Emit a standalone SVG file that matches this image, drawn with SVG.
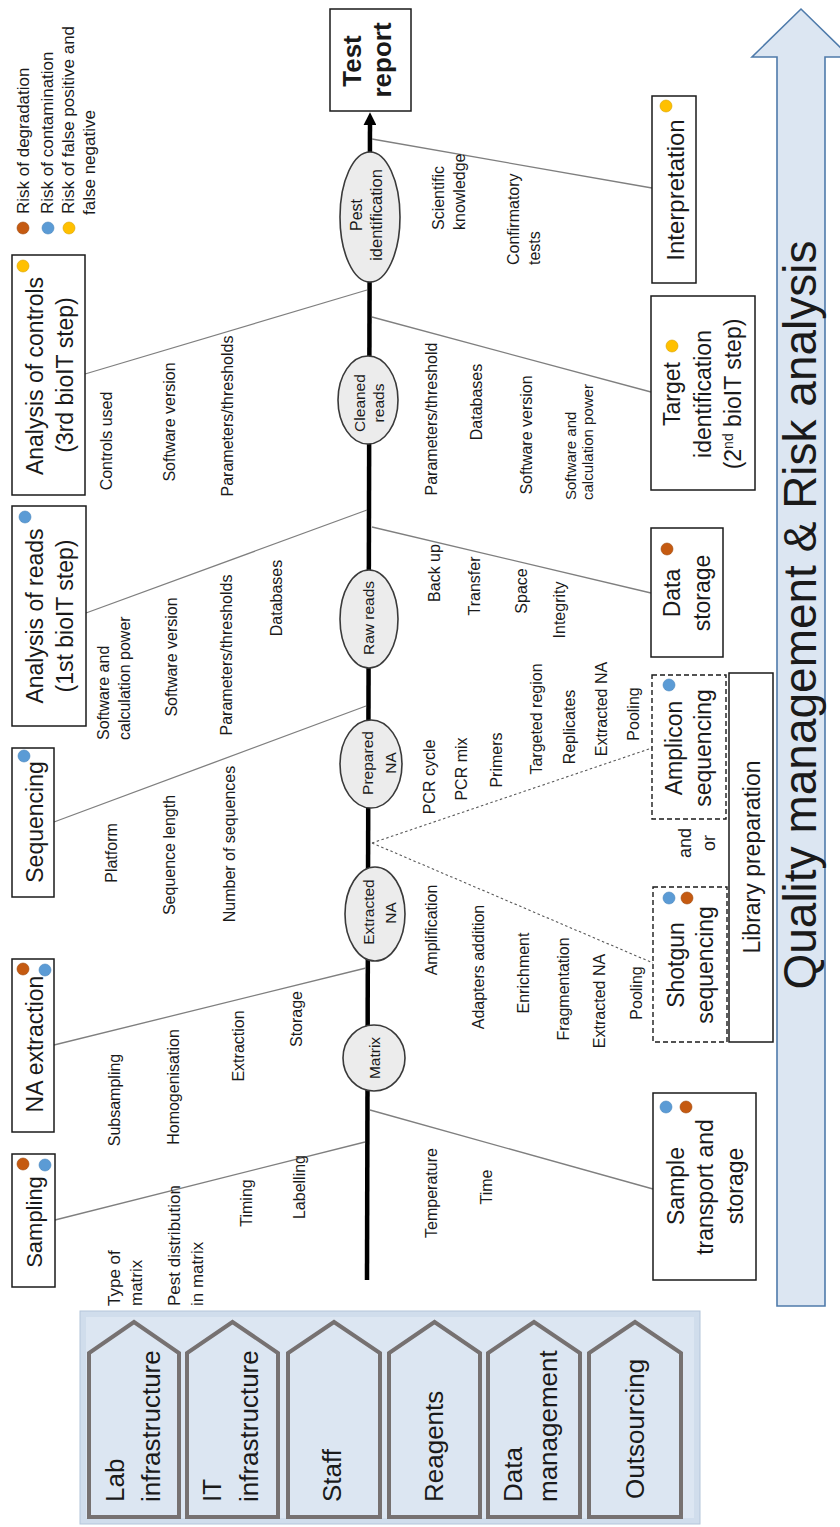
<svg xmlns="http://www.w3.org/2000/svg" width="840" height="1527" viewBox="0 0 840 1527">
<style>
text{font-family:"Liberation Sans",Arial,sans-serif;fill:#1a1a1a}
.box{fill:#fff;stroke:#1a1a1a;stroke-width:1.5}
.dbox{fill:#fff;stroke:#1a1a1a;stroke-width:1.4;stroke-dasharray:5 3}
.ell{fill:#ececec;stroke:#3a3a3a;stroke-width:1.6}
.gl{stroke:#7f7f7f;stroke-width:1.3;fill:none}
.dl{stroke:#5a5a5a;stroke-width:1.1;stroke-dasharray:2.5 2.5;fill:none}
.lbl{font-size:16px}
.lbs{font-size:15px}
.bt{font-size:23px}
.et{font-size:15.5px}
.at{font-size:26px}
.dor{fill:#c55a11;stroke:#a04a0e;stroke-width:0.6}
.dbl{fill:#5b9bd5;stroke:#4a86bd;stroke-width:0.6}
.dye{fill:#ffc000;stroke:#d9a300;stroke-width:0.6}
.pent{fill:#dce6f2;stroke:#767171;stroke-width:4;stroke-linejoin:miter}
</style>
<defs>
<marker id="ah" viewBox="0 0 10 10" refX="4" refY="5" markerWidth="13" markerHeight="13" markerUnits="userSpaceOnUse" orient="auto"><path d="M0,0 L10,5 L0,10 z" fill="#000"/></marker>
</defs>

<g id="quality-arrow">
<polygon points="777,1306 777,57 752,57 801,9 850,57 825,57 825,1306" fill="#dce6f2" stroke="#4f7bab" stroke-width="1.6"/>
<text transform="translate(816,615) rotate(-90)" text-anchor="middle" font-size="46">Quality management &amp; Risk analysis</text>
</g>

<g id="legend">
<circle class="dor" cx="23" cy="228" r="6"/>
<circle class="dbl" cx="48" cy="228" r="6"/>
<circle class="dye" cx="69" cy="228" r="6"/>
<text transform="translate(29,214) rotate(-90)" font-size="17">Risk of degradation</text>
<text transform="translate(53,214) rotate(-90)" font-size="17">Risk of contamination</text>
<text transform="translate(74,214) rotate(-90)" font-size="17">Risk of false positive and</text>
<text transform="translate(95,215) rotate(-90)" font-size="17">false negative</text>
</g>

<g id="connectors">
<line x1="367" y1="1280" x2="370" y2="120" stroke="#000" stroke-width="4.5" marker-end="url(#ah)"/>
<line class="gl" x1="55" y1="1220" x2="365" y2="1142"/>
<line class="gl" x1="54" y1="1045" x2="366" y2="968"/>
<line class="gl" x1="54" y1="822" x2="366" y2="706"/>
<line class="gl" x1="86" y1="613" x2="367" y2="510"/>
<line class="gl" x1="85" y1="374" x2="367" y2="290"/>
<line class="gl" x1="372" y1="139" x2="652" y2="188"/>
<line class="gl" x1="372" y1="317" x2="651" y2="392"/>
<line class="gl" x1="372" y1="527" x2="651" y2="593"/>
<line class="gl" x1="370" y1="1110" x2="653" y2="1189"/>
<line class="dl" x1="372" y1="843" x2="652" y2="748"/>
<line class="dl" x1="372" y1="843" x2="653" y2="963"/>
</g>

<g id="node-test-report">
<rect class="box" x="330" y="9" width="81" height="102"/>
<text transform="translate(361,61) rotate(-90)" text-anchor="middle" font-size="26" font-weight="bold">Test</text>
<text transform="translate(391,60) rotate(-90)" text-anchor="middle" font-size="26" font-weight="bold">report</text>
</g>

<g id="node-pest-identification">
<ellipse class="ell" cx="370" cy="217" rx="30" ry="65"/>
<text transform="translate(362,215) rotate(-90)" text-anchor="middle" font-size="16">Pest</text>
<text transform="translate(382,215) rotate(-90)" text-anchor="middle" font-size="16.5">identification</text>
</g>
<g id="node-cleaned-reads">
<ellipse class="ell" cx="368" cy="400" rx="30" ry="44"/>
<text class="et" transform="translate(365,403) rotate(-90)" text-anchor="middle">Cleaned</text>
<text class="et" transform="translate(384,403) rotate(-90)" text-anchor="middle">reads</text>
</g>
<g id="node-raw-reads">
<ellipse class="ell" cx="369" cy="619" rx="29" ry="49"/>
<text class="et" transform="translate(374,618) rotate(-90)" text-anchor="middle">Raw reads</text>
</g>
<g id="node-prepared-na">
<ellipse class="ell" cx="371" cy="764" rx="31" ry="44"/>
<text class="et" transform="translate(373,763) rotate(-90)" text-anchor="middle">Prepared</text>
<text class="et" transform="translate(396,763) rotate(-90)" text-anchor="middle">NA</text>
</g>
<g id="node-extracted-na">
<ellipse class="ell" cx="375" cy="914" rx="30" ry="47"/>
<text class="et" transform="translate(374,912) rotate(-90)" text-anchor="middle">Extracted</text>
<text class="et" transform="translate(396,913) rotate(-90)" text-anchor="middle">NA</text>
</g>
<g id="node-matrix">
<ellipse class="ell" cx="374" cy="1058" rx="31" ry="33"/>
<text class="et" transform="translate(380,1058) rotate(-90)" text-anchor="middle">Matrix</text>
</g>

<g id="node-analysis-controls">
<rect class="box" x="12" y="255" width="73" height="240"/>
<circle class="dye" cx="23" cy="266" r="6"/>
<text class="bt" transform="translate(43,376) rotate(-90)" text-anchor="middle">Analysis of controls</text>
<text class="bt" transform="translate(73,375) rotate(-90)" text-anchor="middle">(3rd bioIT step)</text>
<text class="lbl" transform="translate(111.5,441) rotate(-90)" text-anchor="middle">Controls used</text>
<text class="lbl" transform="translate(174.5,422) rotate(-90)" text-anchor="middle">Software version</text>
<text class="lbl" transform="translate(233,416) rotate(-90)" text-anchor="middle">Parameters/thresholds</text>
</g>
<g id="node-analysis-reads">
<rect class="box" x="12" y="506" width="74" height="220"/>
<circle class="dbl" cx="25" cy="517" r="6"/>
<text class="bt" transform="translate(43,616) rotate(-90)" text-anchor="middle">Analysis of reads</text>
<text class="bt" transform="translate(73,616) rotate(-90)" text-anchor="middle">(1st bioIT step)</text>
<text class="lbl" transform="translate(108.5,740) rotate(-90)">Software and</text>
<text class="lbl" transform="translate(129.5,740) rotate(-90)">calculation power</text>
<text class="lbl" transform="translate(176.5,657) rotate(-90)" text-anchor="middle">Software version</text>
<text class="lbl" transform="translate(231.5,655) rotate(-90)" text-anchor="middle">Parameters/thresholds</text>
<text class="lbl" transform="translate(281.5,598) rotate(-90)" text-anchor="middle">Databases</text>
</g>
<g id="node-sequencing">
<rect class="box" x="12" y="748" width="42" height="149"/>
<circle class="dbl" cx="24" cy="756" r="6"/>
<text class="bt" transform="translate(43,822) rotate(-90)" text-anchor="middle">Sequencing</text>
<text class="lbl" transform="translate(116.5,853) rotate(-90)" text-anchor="middle">Platform</text>
<text class="lbl" transform="translate(174.5,855) rotate(-90)" text-anchor="middle">Sequence length</text>
<text class="lbl" transform="translate(234.5,844) rotate(-90)" text-anchor="middle">Number of sequences</text>
</g>
<g id="node-na-extraction">
<rect class="box" x="12" y="959" width="42" height="173"/>
<circle class="dor" cx="23" cy="969" r="6"/>
<circle class="dbl" cx="45" cy="970" r="6"/>
<text class="bt" transform="translate(43,1044) rotate(-90)" text-anchor="middle">NA extraction</text>
<text class="lbl" transform="translate(119.5,1100) rotate(-90)" text-anchor="middle">Subsampling</text>
<text class="lbl" transform="translate(178.5,1087) rotate(-90)" text-anchor="middle">Homogenisation</text>
<text class="lbl" transform="translate(243.5,1046) rotate(-90)" text-anchor="middle">Extraction</text>
<text class="lbl" transform="translate(301.5,1019) rotate(-90)" text-anchor="middle">Storage</text>
</g>
<g id="node-sampling">
<rect class="box" x="12" y="1154" width="43" height="133"/>
<circle class="dor" cx="23" cy="1164" r="6"/>
<circle class="dbl" cx="45" cy="1165" r="6"/>
<text transform="translate(42,1222) rotate(-90)" text-anchor="middle" font-size="22">Sampling</text>
<text transform="translate(120,1306) rotate(-90)" font-size="17">Type of</text>
<text transform="translate(142,1306) rotate(-90)" font-size="17">matrix</text>
<text transform="translate(180,1306) rotate(-90)" font-size="17">Pest distribution</text>
<text transform="translate(203,1306) rotate(-90)" font-size="17">in matrix</text>
<text class="lbl" transform="translate(251.5,1203) rotate(-90)" text-anchor="middle">Timing</text>
<text class="lbl" transform="translate(304.5,1187) rotate(-90)" text-anchor="middle">Labelling</text>
</g>

<g id="node-interpretation">
<rect class="box" x="652" y="96" width="44" height="187"/>
<circle class="dye" cx="666" cy="106" r="6"/>
<text transform="translate(684,190) rotate(-90)" text-anchor="middle" font-size="24">Interpretation</text>
<text class="lbl" transform="translate(443.5,230) rotate(-90)">Scientific</text>
<text class="lbl" transform="translate(464.5,230) rotate(-90)">knowledge</text>
<text class="lbl" transform="translate(518.5,265) rotate(-90)">Confirmatory</text>
<text class="lbl" transform="translate(540,265) rotate(-90)">tests</text>
</g>
<g id="node-target-identification">
<rect class="box" x="651" y="296" width="104" height="194"/>
<circle class="dye" cx="672" cy="346" r="6"/>
<text class="bt" transform="translate(680,394) rotate(-90)" text-anchor="middle">Target</text>
<text class="bt" transform="translate(711,394) rotate(-90)" text-anchor="middle">identification</text>
<text class="bt" transform="translate(741,394) rotate(-90)" text-anchor="middle">(2<tspan font-size="14" dy="-8">nd</tspan><tspan dy="8"> bioIT step)</tspan></text>
<text class="lbl" transform="translate(436.5,419) rotate(-90)" text-anchor="middle">Parameters/threshold</text>
<text class="lbl" transform="translate(481.5,402) rotate(-90)" text-anchor="middle">Databases</text>
<text class="lbl" transform="translate(531.5,435) rotate(-90)" text-anchor="middle">Software version</text>
<text class="lbs" transform="translate(576,500) rotate(-90)">Software and</text>
<text class="lbs" transform="translate(593,500) rotate(-90)">calculation power</text>
</g>
<g id="node-data-storage">
<rect class="box" x="651" y="528" width="72" height="129"/>
<circle class="dor" cx="667" cy="549" r="6"/>
<text class="bt" transform="translate(680,593) rotate(-90)" text-anchor="middle">Data</text>
<text class="bt" transform="translate(710,593) rotate(-90)" text-anchor="middle">storage</text>
<text class="lbl" transform="translate(439.5,573) rotate(-90)" text-anchor="middle">Back up</text>
<text class="lbl" transform="translate(479.5,586) rotate(-90)" text-anchor="middle">Transfer</text>
<text class="lbl" transform="translate(526.5,591) rotate(-90)" text-anchor="middle">Space</text>
<text class="lbl" transform="translate(564.5,610) rotate(-90)" text-anchor="middle">Integrity</text>
</g>
<g id="node-amplicon-sequencing">
<rect class="dbox" x="652" y="675" width="74" height="144"/>
<circle class="dbl" cx="669" cy="685" r="6"/>
<text class="bt" transform="translate(682,748) rotate(-90)" text-anchor="middle">Amplicon</text>
<text class="bt" transform="translate(711,748) rotate(-90)" text-anchor="middle">sequencing</text>
<text class="lbl" transform="translate(434.5,777) rotate(-90)" text-anchor="middle">PCR cycle</text>
<text class="lbl" transform="translate(467,769) rotate(-90)" text-anchor="middle">PCR mix</text>
<text class="lbl" transform="translate(501.5,760) rotate(-90)" text-anchor="middle">Primers</text>
<text class="lbl" transform="translate(541.5,719) rotate(-90)" text-anchor="middle">Targeted region</text>
<text class="lbl" transform="translate(574.5,727) rotate(-90)" text-anchor="middle">Replicates</text>
<text class="lbl" transform="translate(606.5,709) rotate(-90)" text-anchor="middle">Extracted NA</text>
<text class="lbl" transform="translate(638.5,714) rotate(-90)" text-anchor="middle">Pooling</text>
</g>
<g id="node-and-or">
<text transform="translate(691,843) rotate(-90)" text-anchor="middle" font-size="18">and</text>
<text transform="translate(715,843) rotate(-90)" text-anchor="middle" font-size="18">or</text>
</g>
<g id="node-shotgun-sequencing">
<rect class="dbox" x="653" y="887" width="74" height="155"/>
<circle class="dbl" cx="669" cy="898" r="6"/>
<circle class="dor" cx="687" cy="898" r="6"/>
<text class="bt" transform="translate(684,965) rotate(-90)" text-anchor="middle">Shotgun</text>
<text class="bt" transform="translate(713,965) rotate(-90)" text-anchor="middle">sequencing</text>
<text class="lbl" transform="translate(436.5,930) rotate(-90)" text-anchor="middle">Amplification</text>
<text class="lbl" transform="translate(483.5,967) rotate(-90)" text-anchor="middle">Adapters addition</text>
<text class="lbl" transform="translate(528.5,973) rotate(-90)" text-anchor="middle">Enrichment</text>
<text class="lbl" transform="translate(568.5,989) rotate(-90)" text-anchor="middle">Fragmentation</text>
<text class="lbl" transform="translate(605,1001) rotate(-90)" text-anchor="middle">Extracted NA</text>
<text class="lbl" transform="translate(641.5,993) rotate(-90)" text-anchor="middle">Pooling</text>
</g>
<g id="node-library-preparation">
<rect class="box" x="729" y="673" width="44" height="369"/>
<text class="bt" transform="translate(760,857) rotate(-90)" text-anchor="middle">Library preparation</text>
</g>
<g id="node-sample-transport">
<rect class="box" x="653" y="1093" width="103" height="187"/>
<circle class="dbl" cx="666" cy="1107" r="6"/>
<circle class="dor" cx="686" cy="1107" r="6"/>
<text class="bt" transform="translate(684,1186) rotate(-90)" text-anchor="middle">Sample</text>
<text class="bt" transform="translate(713,1187) rotate(-90)" text-anchor="middle">transport and</text>
<text class="bt" transform="translate(743,1186) rotate(-90)" text-anchor="middle">storage</text>
<text class="lbl" transform="translate(436.5,1193) rotate(-90)" text-anchor="middle">Temperature</text>
<text class="lbl" transform="translate(491.5,1187) rotate(-90)" text-anchor="middle">Time</text>
</g>

<g id="node-resources">
<rect x="80" y="1311" width="620" height="213" fill="#d0ddec" stroke="#b4c5da" stroke-width="1"/>
<rect x="86" y="1317" width="608" height="201" fill="#dce6f2"/>
<polygon class="pent" points="89,1517 89,1353 134,1322 179,1353 179,1517"/>
<polygon class="pent" points="187,1517 187,1353 232.5,1322 278,1353 278,1517"/>
<polygon class="pent" points="288,1517 288,1353 334,1322 380,1353 380,1517"/>
<polygon class="pent" points="389,1517 389,1353 434.5,1322 480,1353 480,1517"/>
<polygon class="pent" points="488,1517 488,1353 534,1322 580,1353 580,1517"/>
<polygon class="pent" points="589,1517 589,1353 635,1322 681,1353 681,1517"/>
<text class="at" transform="translate(124,1502) rotate(-90)">Lab</text>
<text class="at" transform="translate(160,1502) rotate(-90)">infrastructure</text>
<text class="at" transform="translate(221,1502) rotate(-90)">IT</text>
<text class="at" transform="translate(258,1502) rotate(-90)">infrastructure</text>
<text class="at" transform="translate(341,1502) rotate(-90)">Staff</text>
<text class="at" transform="translate(443,1502) rotate(-90)">Reagents</text>
<text class="at" transform="translate(522,1502) rotate(-90)">Data</text>
<text class="at" transform="translate(557,1502) rotate(-90)">management</text>
<text class="at" transform="translate(644,1499) rotate(-90)">Outsourcing</text>
</g>
</svg>
